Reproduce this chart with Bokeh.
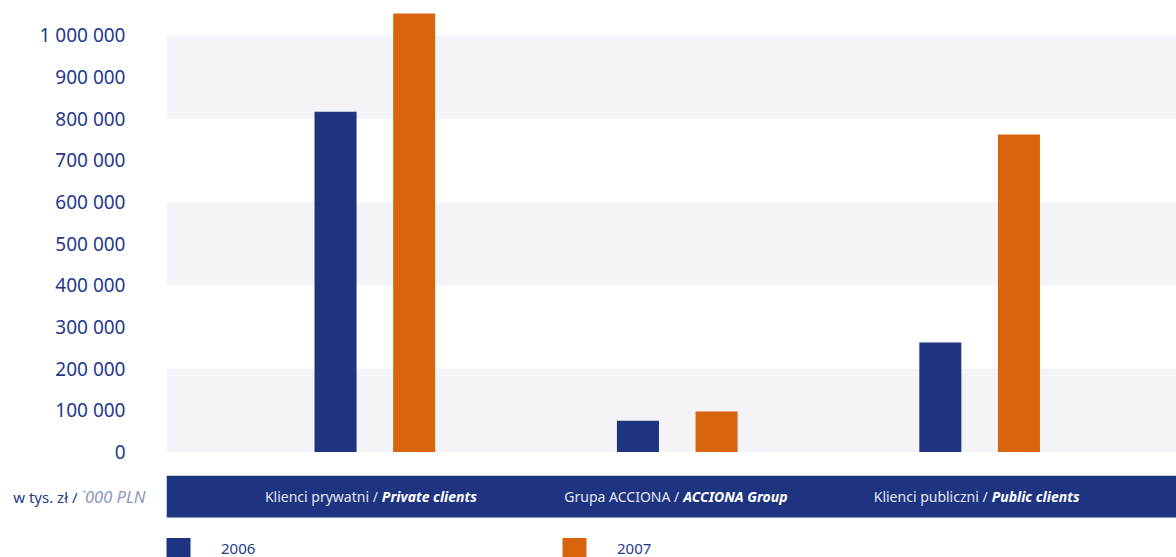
from bokeh.plotting import figure
from bokeh.layouts import column
from bokeh.models import (Range1d, BoxAnnotation, FixedTicker, LinearAxis, Legend,
                          LegendItem, ColumnDataSource)
from bokeh.core.properties import value
from bokeh.embed import file_html
from bokeh.resources import INLINE

# ---- data -------------------------------------------------------------
categories_pl = ["Klienci prywatni", "Grupa ACCIONA", "Klienci publiczni"]
categories_en = ["Private clients", "ACCIONA Group", "Public clients"]
years = ["2006", "2007"]
values_2006 = [817000, 75000, 263000]
values_2007 = [1053000, 97000, 762000]
y_ticks = [0, 100000, 200000, 300000, 400000, 500000,
           600000, 700000, 800000, 900000, 1000000]
y_tick_labels = ["0", "100 000", "200 000", "300 000", "400 000", "500 000",
                 "600 000", "700 000", "800 000", "900 000", "1 000 000"]
unit_pl = "w tys. zł /"
unit_en = "`000 PLN"

# ---- styling ----------------------------------------------------------
FONT = "Noto Sans"
BLUE = "#1e3480"
ORANGE = "#d9640e"
STRIPE = "#f4f4f8"
TEXT = "#24398a"
UNIT_EN = "#8a96c2"
W = 1176
LEFT = 166          # width of the tick-label gutter
MAIN_H = 475
FOOT_H = 82
BAND_H = 42
BAR_SHIFT = 0.13
BAR_W = 0.139
split_px = [7, 6, 12]  # where the Polish/English halves of each label meet

x_range = Range1d(-0.689, 2.651)
idx = list(range(len(categories_pl)))


def bare(fig):
    fig.grid.visible = False
    fig.outline_line_color = None
    return fig


def plain_axis(axis, standoff, size, color, style="normal"):
    axis.axis_line_color = None
    axis.major_tick_line_color = None
    axis.minor_tick_line_color = None
    axis.major_tick_out = 0
    axis.major_tick_in = 0
    axis.major_label_standoff = standoff
    axis.major_label_text_font = FONT
    axis.major_label_text_font_size = size
    axis.major_label_text_color = color
    axis.major_label_text_font_style = style
    return axis


# ---- main bar plot ----------------------------------------------------
p = figure(width=W, height=MAIN_H, x_range=x_range, y_range=Range1d(-56400, 1084000),
           output_backend="svg", toolbar_location=None, x_axis_location=None,
           min_border_left=LEFT, min_border_right=0, min_border_top=0,
           min_border_bottom=0)
bare(p)

for lo, hi in zip(y_ticks[0::4], y_ticks[2::4]):
    p.add_layout(BoxAnnotation(bottom=lo, top=hi, fill_color=STRIPE, fill_alpha=1,
                               line_color=None, level="underlay"))

p.vbar(x=[i - BAR_SHIFT for i in idx], top=values_2006, width=BAR_W,
       fill_color=BLUE, line_color=None)
p.vbar(x=[i + BAR_SHIFT for i in idx], top=values_2007, width=BAR_W,
       fill_color=ORANGE, line_color=None)

ax = p.yaxis[0]
ax.ticker = FixedTicker(ticks=y_ticks)
ax.major_label_overrides = dict(zip(y_ticks, y_tick_labels))
plain_axis(ax, 41, "19px", TEXT)

# ---- footer: category band, unit note and legend ----------------------
f = figure(width=W, height=FOOT_H, x_range=x_range, y_range=Range1d(0, FOOT_H),
           output_backend="svg", toolbar_location=None,
           x_axis_location=None, y_axis_location=None,
           min_border_left=LEFT, min_border_right=0, min_border_top=0,
           min_border_bottom=0)
bare(f)
band_mid = FOOT_H - BAND_H / 2
f.add_layout(BoxAnnotation(bottom=FOOT_H - BAND_H, top=FOOT_H,
                           fill_color=BLUE, fill_alpha=1, line_color=None,
                           level="underlay"))

src = ColumnDataSource(dict(
    x=idx,
    pl=[c + " /" for c in categories_pl],
    en=categories_en,
    xo_pl=[s - 4 for s in split_px],
    xo_en=split_px,
))
f.text(x="x", y=band_mid, text="pl", x_offset="xo_pl", source=src,
       text_align="right", text_baseline="middle",
       text_font=value(FONT), text_font_size="14px", text_color="#e2e6f2")
f.text(x="x", y=band_mid, text="en", x_offset="xo_en", source=src,
       text_align="left", text_baseline="middle",
       text_font=value(FONT), text_font_size="14px", text_font_style="bold italic",
       text_color="white")

# unit note: two stacked left axes, each carrying one styled half
unit_ticks = FixedTicker(ticks=[band_mid])
ax_en = LinearAxis(ticker=unit_ticks, major_label_overrides={band_mid: unit_en})
plain_axis(ax_en, 21, "16.5px", UNIT_EN, "italic")
f.add_layout(ax_en, "left")
ax_pl = LinearAxis(ticker=unit_ticks, major_label_overrides={band_mid: unit_pl})
plain_axis(ax_pl, 0, "15px", TEXT)
f.add_layout(ax_pl, "left")

# swatch renderers for the legend (zero-height, nothing drawn in the frame)
k06 = f.vbar(x=[0], top=[0], width=BAR_W, fill_color=BLUE, line_color=None)
k07 = f.vbar(x=[0], top=[0], width=BAR_W, fill_color=ORANGE, line_color=None)
legend = Legend(items=[LegendItem(label=years[0], renderers=[k06]),
                       LegendItem(label=years[1], renderers=[k07])],
                orientation="horizontal", location=(-3, -3),
                glyph_width=30, glyph_height=25, label_height=25,
                label_standoff=28, label_width=338, spacing=0,
                padding=0, margin=0, border_line_color=None,
                background_fill_alpha=0,
                label_text_font=FONT, label_text_font_size="15px",
                label_text_color=TEXT)
f.add_layout(legend, "center")

layout = column(p, f, spacing=0)
open("out.html", "w").write(file_html(layout, INLINE))
